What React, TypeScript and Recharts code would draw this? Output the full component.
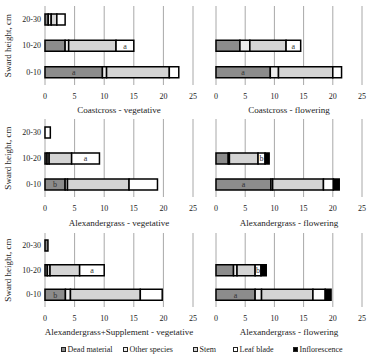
import React from 'react';
import { BarChart, Bar, XAxis, YAxis, CartesianGrid, LabelList } from 'recharts';

const serif = '"Liberation Serif", "Times New Roman", serif';

// Sward layers, top layer first
const swardHeights = ['20-30', '10-20', '0-10'];
const xTicks = [0, 5, 10, 15, 20, 25];
const layerEdges = [0, 1, 2, 3];

const componentKeys = ['dead', 'other', 'stem', 'leaf', 'inflorescence'];
const componentNames = ['Dead material', 'Other species', 'Stem', 'Leaf blade', 'Inflorescence'];
const componentColors = ['#8c8c8c', '#ececec', '#d4d4d4', '#ffffff', '#000000'];

// Coastcross - vegetative
const ccVegDead = [0.55, 3.4, 9.7];
const ccVegOther = [0.5, 0.6, 0.7];
const ccVegStem = [0.95, 8.0, 10.6];
const ccVegLeaf = [1.4, 3.0, 1.6];
const ccVegInfl = [0, 0, 0];
const ccVegDeadTags = ['', '', 'a'];
const ccVegLeafTags = ['', 'a', ''];

// Coastcross - flowering
const ccFlwDead = [0, 4.1, 9.3];
const ccFlwOther = [0, 1.7, 1.4];
const ccFlwStem = [0, 6.2, 9.3];
const ccFlwLeaf = [0, 2.5, 1.5];
const ccFlwInfl = [0, 0, 0];
const ccFlwDeadTags = ['', '', 'a'];
const ccFlwLeafTags = ['', 'a', ''];

// Alexandergrass - vegetative
const agVegDead = [0, 0.35, 3.4];
const agVegOther = [0, 0.35, 0.4];
const agVegStem = [0, 3.8, 10.4];
const agVegLeaf = [0.9, 4.7, 4.8];
const agVegInfl = [0, 0, 0];
const agVegDeadTags = ['', '', 'b'];
const agVegLeafTags = ['', 'a', ''];

// Alexandergrass - flowering
const agFlwDead = [0, 2.1, 9.4];
const agFlwOther = [0, 0.2, 0.3];
const agFlwStem = [0, 4.9, 8.7];
const agFlwLeaf = [0, 1.2, 1.7];
const agFlwInfl = [0, 0.7, 1.0];
const agFlwDeadTags = ['', '', 'a'];
const agFlwLeafTags = ['', 'b', ''];

// Alexandergrass+Supplement - vegetative
const agsVegDead = [0.5, 0.4, 3.45];
const agsVegOther = [0, 0.45, 0.85];
const agsVegStem = [0, 5.0, 11.8];
const agsVegLeaf = [0, 4.15, 3.7];
const agsVegInfl = [0, 0, 0];
const agsVegDeadTags = ['', '', 'b'];
const agsVegLeafTags = ['', 'a', ''];

// Alexandergrass+Supplement - flowering
const agsFlwDead = [0, 3.0, 6.7];
const agsFlwOther = [0, 0.6, 1.1];
const agsFlwStem = [0, 3.1, 8.8];
const agsFlwLeaf = [0, 1.0, 2.1];
const agsFlwInfl = [0, 0.9, 1.0];
const agsFlwDeadTags = ['', '', 'a'];
const agsFlwLeafTags = ['', 'b', ''];

function buildRows(
  dead: number[],
  other: number[],
  stem: number[],
  leaf: number[],
  infl: number[],
  deadTags: string[],
  leafTags: string[]
) {
  return swardHeights.map((h, i) => ({
    height: h,
    dead: dead[i],
    other: other[i],
    stem: stem[i],
    leaf: leaf[i],
    inflorescence: infl[i],
    deadTag: deadTags[i],
    leafTag: leafTags[i],
  }));
}

function XTick(props: any) {
  const { x, y, payload } = props;
  return (
    <text x={x} y={y} dy="0.71em" textAnchor="middle" fontSize={8} fill="#222" fontFamily={serif}>
      {payload.value}
    </text>
  );
}

function YTick(props: any) {
  const { x, y, payload } = props;
  return (
    <text x={x} y={y} dy="0.35em" textAnchor="end" fontSize={8} fill="#222" fontFamily={serif}>
      {payload.value}
    </text>
  );
}

type PanelProps = {
  title: string;
  data: ReturnType<typeof buildRows>;
  column: 0 | 1;
  plotTop: number;
  plotHeight: number;
  titleY: number;
};

function Panel({ title, data, column, plotTop, plotHeight, titleY }: PanelProps) {
  const isLeft = column === 0;
  const chartLeft = isLeft ? 0 : 180;
  const chartWidth = isLeft ? 200 : 187;
  const marginLeft = isLeft ? 0 : 36;
  const marginRight = isLeft ? 7 : 5;
  const marginTop = 6;
  const axisHeight = 22;
  const chartHeight = marginTop + plotHeight + axisHeight;
  const plotLeft = chartLeft + (isLeft ? 45 : marginLeft);
  const plotWidth = chartLeft + chartWidth - marginRight - plotLeft;

  const tagStyle = { fontSize: 8, fill: '#333', fontFamily: serif };

  return (
    <>
      <div style={{ position: 'absolute', left: chartLeft, top: plotTop - marginTop }}>
        <BarChart
          layout="vertical"
          width={chartWidth}
          height={chartHeight}
          data={data}
          barSize={11}
          margin={{ top: marginTop, right: marginRight, left: marginLeft, bottom: 0 }}
        >
          <CartesianGrid horizontal={false} stroke="#a8a8a8" yAxisId="cat" />
          <XAxis
            type="number"
            domain={[0, 25]}
            ticks={xTicks}
            interval={0}
            axisLine={false}
            tickLine={false}
            height={axisHeight}
            tick={<XTick />}
          />
          <YAxis
            yAxisId="edge"
            type="number"
            domain={[0, 3]}
            ticks={layerEdges}
            allowDataOverflow
            tick={false}
            tickSize={3}
            width={0}
            axisLine={{ stroke: '#8c8c8c' }}
            tickLine={{ stroke: '#8c8c8c' }}
          />
          <YAxis
            yAxisId="cat"
            type="category"
            dataKey="height"
            hide={!isLeft}
            width={45}
            axisLine={false}
            tickLine={false}
            tickSize={2}
            tickMargin={2}
            tick={<YTick />}
            label={
              isLeft
                ? {
                    value: 'Sward height, cm',
                    angle: -90,
                    position: 'insideLeft',
                    offset: 8,
                    style: { textAnchor: 'middle', fontSize: 9, fill: '#222', fontFamily: serif },
                  }
                : undefined
            }
          />
          {componentKeys.map((key, i) => (
            <Bar
              key={key}
              yAxisId="cat"
              dataKey={key}
              stackId="layer"
              fill={componentColors[i]}
              stroke="#000"
              strokeWidth={1.5}
              isAnimationActive={false}
            >
              {key === 'dead' && <LabelList dataKey="deadTag" position="center" style={tagStyle} />}
              {key === 'leaf' && <LabelList dataKey="leafTag" position="center" style={tagStyle} />}
            </Bar>
          ))}
        </BarChart>
      </div>
      <div
        style={{
          position: 'absolute',
          left: plotLeft - 20,
          width: plotWidth + 40,
          top: titleY - 6,
          height: 12,
          lineHeight: '12px',
          textAlign: 'center',
          fontSize: 9,
          fontFamily: serif,
          color: '#222',
          whiteSpace: 'nowrap',
        }}
      >
        {title}
      </div>
    </>
  );
}

const legendX = [61, 123, 193, 233, 293];

function Legend() {
  return (
    <>
      {componentNames.map((name, i) => (
        <div
          key={name}
          style={{
            position: 'absolute',
            left: legendX[i],
            top: 343,
            height: 12,
            display: 'flex',
            alignItems: 'center',
            fontSize: 8,
            fontFamily: serif,
            color: '#222',
            whiteSpace: 'nowrap',
          }}
        >
          <span
            style={{
              display: 'inline-block',
              width: 3,
              height: 3,
              border: '1px solid #222',
              background: componentColors[i],
              marginRight: 1.5,
            }}
          />
          {name}
        </div>
      ))}
    </>
  );
}

export default function App() {
  const panels: PanelProps[] = [
    {
      title: 'Coastcross - vegetative',
      data: buildRows(ccVegDead, ccVegOther, ccVegStem, ccVegLeaf, ccVegInfl, ccVegDeadTags, ccVegLeafTags),
      column: 0,
      plotTop: 6,
      plotHeight: 79,
      titleY: 110,
    },
    {
      title: 'Coastcross - flowering',
      data: buildRows(ccFlwDead, ccFlwOther, ccFlwStem, ccFlwLeaf, ccFlwInfl, ccFlwDeadTags, ccFlwLeafTags),
      column: 1,
      plotTop: 6,
      plotHeight: 79,
      titleY: 110,
    },
    {
      title: 'Alexandergrass - vegetative',
      data: buildRows(agVegDead, agVegOther, agVegStem, agVegLeaf, agVegInfl, agVegDeadTags, agVegLeafTags),
      column: 0,
      plotTop: 119,
      plotHeight: 78,
      titleY: 223,
    },
    {
      title: 'Alexandergrass - flowering',
      data: buildRows(agFlwDead, agFlwOther, agFlwStem, agFlwLeaf, agFlwInfl, agFlwDeadTags, agFlwLeafTags),
      column: 1,
      plotTop: 119,
      plotHeight: 78,
      titleY: 223,
    },
    {
      title: 'Alexandergrass+Supplement - vegetative',
      data: buildRows(agsVegDead, agsVegOther, agsVegStem, agsVegLeaf, agsVegInfl, agsVegDeadTags, agsVegLeafTags),
      column: 0,
      plotTop: 233,
      plotHeight: 74,
      titleY: 332,
    },
    {
      title: 'Alexandergrass - flowering',
      data: buildRows(agsFlwDead, agsFlwOther, agsFlwStem, agsFlwLeaf, agsFlwInfl, agsFlwDeadTags, agsFlwLeafTags),
      column: 1,
      plotTop: 233,
      plotHeight: 74,
      titleY: 332,
    },
  ];

  return (
    <div
      style={{
        position: 'absolute',
        left: 0,
        top: 0,
        width: 367,
        height: 354,
        background: '#fff',
        overflow: 'hidden',
        fontFamily: serif,
      }}
    >
      {panels.map((p, i) => (
        <Panel key={i} {...p} />
      ))}
      <Legend />
    </div>
  );
}
